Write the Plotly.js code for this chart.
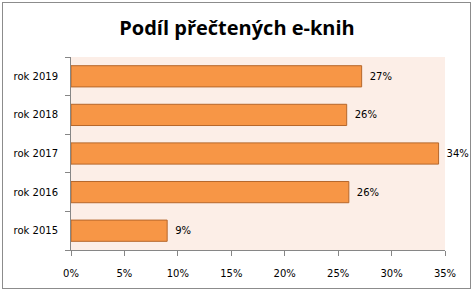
<!DOCTYPE html>
<html><head><meta charset="utf-8">
<script src="https://cdn.plot.ly/plotly-3.0.1.min.js"></script>
<style>html,body{margin:0;padding:0;background:#fff}#c{width:474px;height:293px}
#b{position:absolute;left:2px;top:2px;width:467px;height:285px;border:1px solid #8c8c8c;pointer-events:none}</style>
</head><body><div id="c"></div><div id="b"></div>
<script>
const categories = ['rok 2015','rok 2016','rok 2017','rok 2018','rok 2019'];
const values = [9.0, 26.0, 34.4, 25.8, 27.2];
const xTicks = [0,5,10,15,20,25,30,35];
const xTickLabels = ['0%','5%','10%','15%','20%','25%','30%','35%'];
const titleText = 'Podíl přečtených e-knih';

Plotly.newPlot('c', [{
  type:'bar', orientation:'h', y:categories, x:values,
  width:0.55,
  marker:{color:'#F79646', line:{color:'#B6672B', width:1}},
  text: values.map(v=>'\u2002'+Math.round(v)+'%'),
  textposition:'outside', cliponaxis:false,
  textfont:{family:'DejaVu Sans', size:10, color:'#000'},
  hoverinfo:'none'
}], {
  width:474, height:293,
  margin:{l:71, r:29, t:57, b:43},
  paper_bgcolor:'#fff', plot_bgcolor:'#FCEEE7',
  title:{text:titleText, x:0.5, xanchor:'center', y:0.905, yanchor:'middle',
         font:{family:'Open Sans', size:20, color:'#000', weight:'bold'}},
  showlegend:false,
  xaxis:{range:[0,35], tickvals:xTicks, ticktext:xTickLabels, showgrid:false, zeroline:false,
         showline:true, linecolor:'#868686', ticks:'outside', ticklen:5, tickcolor:'#868686',
         ticklabelstandoff:9,
         tickfont:{family:'DejaVu Sans', size:10, color:'#000'}, fixedrange:true},
  yaxis:{showgrid:false, zeroline:false, showline:true, linecolor:'#868686',
         ticks:'outside', ticklen:5, tickcolor:'#868686', tickson:'boundaries',
         tickfont:{family:'DejaVu Sans', size:10, color:'#000'}, ticklabelstandoff:10, fixedrange:true}
}, {displayModeBar:false, staticPlot:true});
</script></body></html>
